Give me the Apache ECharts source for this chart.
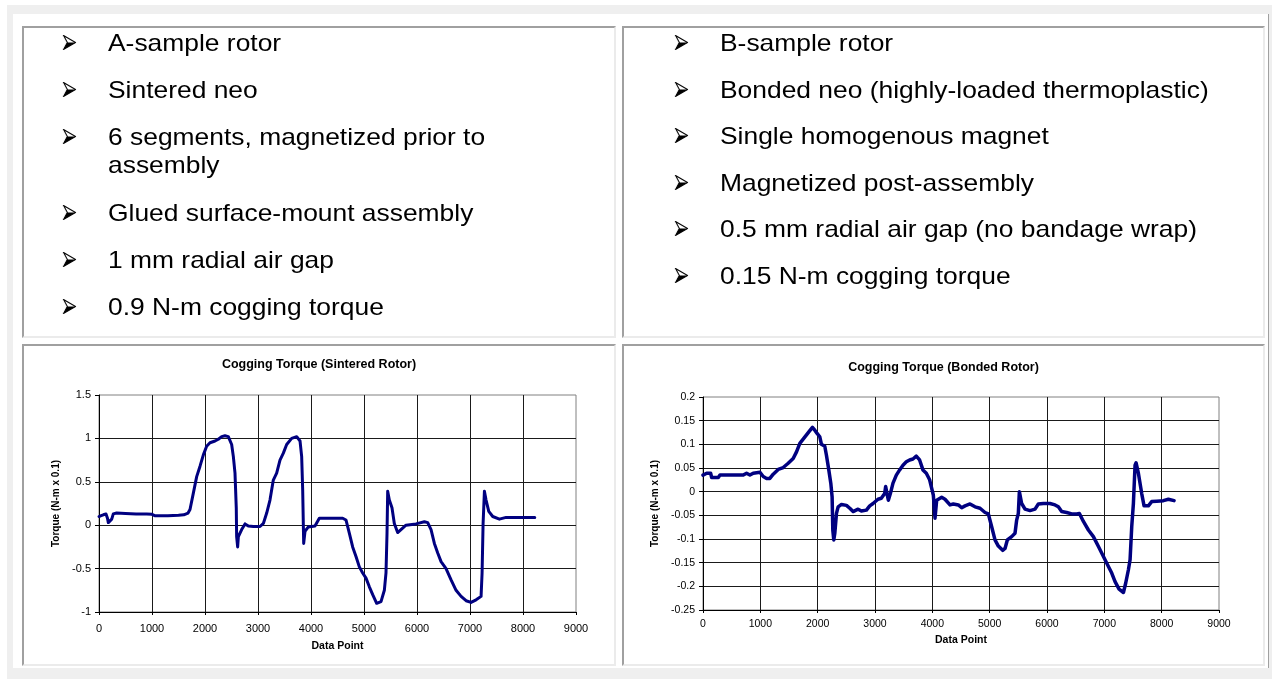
<!DOCTYPE html>
<html>
<head>
<meta charset="utf-8">
<script src="https://cdn.jsdelivr.net/npm/echarts@6/dist/echarts.min.js"></script>
<style>
  html, body { margin: 0; padding: 0; background: #fff; }
  body { width: 1272px; height: 679px; position: relative; overflow: hidden; font-family: 'Liberation Sans', Arial, sans-serif; }
  .frame { position: absolute; left: 7px; top: 5px; width: 1265px; height: 674px; background: #efefef; }
  .inner { position: absolute; left: 13px; top: 14px; width: 1255px; height: 654px; background: #fff; border-right: 1px solid #a0a0a0; }
  .box { position: absolute; box-sizing: border-box; border: 2px solid; border-color: #a0a0a0 #ebebeb #ebebeb #a0a0a0; background: #fff; }
  .list { position: absolute; top: 1px; transform: scaleX(1.1); transform-origin: 0 0; font-size: 24px; line-height: 28px; color: #000; }
  .list p { margin: 0 0 18.6px 0; position: relative; white-space: nowrap; }
  .list.a p { margin-bottom: 19.2px; }
  .arr { position: absolute; left: -41px; top: 6px; }
  .chart { position: absolute; left: 0; top: 0; }
</style>
</head>
<body>
<div class="frame"></div>
<div class="inner"></div>

<div class="box" style="left:22px;top:26px;width:594px;height:312px">
  <div class="list a" style="left:84px">
    <p><svg class="arr" width="12" height="15"><polygon points="0.5,0.5 11.5,7.5 0.5,14.5 4,7.5" fill="#fff" stroke="#000"/><polygon points="4,7.5 11.5,7.5 0.5,14.5" fill="#000"/></svg>A-sample rotor</p>
    <p><svg class="arr" width="12" height="15"><polygon points="0.5,0.5 11.5,7.5 0.5,14.5 4,7.5" fill="#fff" stroke="#000"/><polygon points="4,7.5 11.5,7.5 0.5,14.5" fill="#000"/></svg>Sintered neo</p>
    <p><svg class="arr" width="12" height="15"><polygon points="0.5,0.5 11.5,7.5 0.5,14.5 4,7.5" fill="#fff" stroke="#000"/><polygon points="4,7.5 11.5,7.5 0.5,14.5" fill="#000"/></svg>6 segments, magnetized prior to<br>assembly</p>
    <p><svg class="arr" width="12" height="15"><polygon points="0.5,0.5 11.5,7.5 0.5,14.5 4,7.5" fill="#fff" stroke="#000"/><polygon points="4,7.5 11.5,7.5 0.5,14.5" fill="#000"/></svg>Glued surface-mount assembly</p>
    <p><svg class="arr" width="12" height="15"><polygon points="0.5,0.5 11.5,7.5 0.5,14.5 4,7.5" fill="#fff" stroke="#000"/><polygon points="4,7.5 11.5,7.5 0.5,14.5" fill="#000"/></svg>1 mm radial air gap</p>
    <p><svg class="arr" width="12" height="15"><polygon points="0.5,0.5 11.5,7.5 0.5,14.5 4,7.5" fill="#fff" stroke="#000"/><polygon points="4,7.5 11.5,7.5 0.5,14.5" fill="#000"/></svg>0.9 N-m cogging torque</p>
  </div>
</div>

<div class="box" style="left:622px;top:26px;width:643px;height:312px">
  <div class="list" style="left:96px">
    <p><svg class="arr" width="12" height="15"><polygon points="0.5,0.5 11.5,7.5 0.5,14.5 4,7.5" fill="#fff" stroke="#000"/><polygon points="4,7.5 11.5,7.5 0.5,14.5" fill="#000"/></svg>B-sample rotor</p>
    <p><svg class="arr" width="12" height="15"><polygon points="0.5,0.5 11.5,7.5 0.5,14.5 4,7.5" fill="#fff" stroke="#000"/><polygon points="4,7.5 11.5,7.5 0.5,14.5" fill="#000"/></svg>Bonded neo (highly-loaded thermoplastic)</p>
    <p><svg class="arr" width="12" height="15"><polygon points="0.5,0.5 11.5,7.5 0.5,14.5 4,7.5" fill="#fff" stroke="#000"/><polygon points="4,7.5 11.5,7.5 0.5,14.5" fill="#000"/></svg>Single homogenous magnet</p>
    <p><svg class="arr" width="12" height="15"><polygon points="0.5,0.5 11.5,7.5 0.5,14.5 4,7.5" fill="#fff" stroke="#000"/><polygon points="4,7.5 11.5,7.5 0.5,14.5" fill="#000"/></svg>Magnetized post-assembly</p>
    <p><svg class="arr" width="12" height="15"><polygon points="0.5,0.5 11.5,7.5 0.5,14.5 4,7.5" fill="#fff" stroke="#000"/><polygon points="4,7.5 11.5,7.5 0.5,14.5" fill="#000"/></svg>0.5 mm radial air gap (no bandage wrap)</p>
    <p><svg class="arr" width="12" height="15"><polygon points="0.5,0.5 11.5,7.5 0.5,14.5 4,7.5" fill="#fff" stroke="#000"/><polygon points="4,7.5 11.5,7.5 0.5,14.5" fill="#000"/></svg>0.15 N-m cogging torque</p>
  </div>
</div>

<div class="box" style="left:22px;top:344px;width:594px;height:322px">
  <div id="sintered" class="chart" style="width:590px;height:318px"></div>
</div>
<div class="box" style="left:622px;top:344px;width:643px;height:322px">
  <div id="bonded" class="chart" style="width:639px;height:318px"></div>
</div>

<script>
// sintered rotor trace (data point, torque)
var sinteredX = [0, 40, 82, 132, 160, 176, 208, 240, 270, 333, 500, 700, 900, 1000, 1050, 1300, 1500, 1600, 1680,
  1717, 1780, 1843, 1906, 1969, 2031, 2094, 2189, 2252, 2314, 2377, 2440, 2503, 2535, 2566, 2590, 2597, 2616, 2630,
  2692, 2755, 2818, 2912, 3038, 3101, 3164, 3226, 3289, 3352, 3415, 3478, 3541, 3635, 3730, 3793, 3824, 3843, 3862,
  3887, 3950, 4075, 4110, 4157, 4220, 4598, 4660, 4723, 4786, 4849, 4912, 4975, 5038, 5101, 5164, 5239, 5321, 5384,
  5415, 5434, 5447, 5478, 5528, 5572, 5635, 5698, 5792, 5981, 6139, 6202, 6265, 6328, 6391, 6454, 6548, 6643, 6737,
  6832, 6926, 7020, 7115, 7209, 7228, 7247, 7272, 7303, 7354, 7429, 7555, 7681, 8222];
var sinteredY = [0.10, 0.11, 0.12, 0.13, 0.08, 0.03, 0.05, 0.07, 0.13, 0.14, 0.135, 0.13, 0.13, 0.125, 0.11, 0.11, 0.115, 0.12, 0.14,
  0.18, 0.37, 0.56, 0.68, 0.81, 0.91, 0.95, 0.97, 0.99, 1.02, 1.03, 1.02, 0.93, 0.79, 0.60, 0.20, -0.13, -0.25, -0.13,
  -0.05, 0.015, -0.01, -0.015, -0.015, 0.02, 0.14, 0.29, 0.52, 0.60, 0.75, 0.83, 0.93, 1.00, 1.02, 0.97, 0.79, 0.41, -0.21,
  -0.07, -0.02, -0.01, 0.01, 0.08, 0.08, 0.08, 0.06, -0.09, -0.25, -0.36, -0.48, -0.55, -0.61, -0.71, -0.80, -0.90, -0.88, -0.75,
  -0.55, -0.10, 0.39, 0.29, 0.20, 0.02, -0.085, -0.05, 0, 0.015, 0.04, 0.03, -0.05, -0.21, -0.32, -0.42, -0.50, -0.63, -0.75,
  -0.82, -0.87, -0.89, -0.86, -0.82, -0.55, 0.02, 0.39, 0.29, 0.16, 0.10, 0.07, 0.09, 0.09];

// bonded rotor trace
var bondedX = [0, 64, 93, 133, 151, 209, 267, 296, 500, 702, 760, 818, 876, 993, 1050, 1109, 1166, 1225, 1312, 1399,
  1486, 1573, 1631, 1689, 1747, 1805, 1863, 1909, 1950, 1990, 2037, 2066, 2124, 2153, 2194, 2229, 2252, 2264, 2281,
  2299, 2328, 2357, 2415, 2502, 2560, 2618, 2705, 2763, 2850, 2908, 2966, 3052, 3110, 3169, 3186, 3209, 3233, 3268,
  3314, 3372, 3430, 3488, 3546, 3604, 3662, 3720, 3778, 3836, 3895, 3953, 4017, 4047, 4076, 4105, 4163, 4221, 4308,
  4366, 4454, 4512, 4570, 4657, 4745, 4832, 4919, 4977, 5035, 5093, 5151, 5227, 5268, 5308, 5384, 5442, 5471, 5500,
  5518, 5558, 5617, 5704, 5791, 5849, 5936, 6052, 6140, 6198, 6256, 6343, 6431, 6518, 6565, 6635, 6722, 6809, 6897,
  6984, 7071, 7129, 7187, 7257, 7333, 7373, 7420, 7449, 7478, 7507, 7536, 7554, 7594, 7652, 7693, 7768, 7826, 7914,
  8030, 8117, 8216];
var bondedY = [0.035, 0.039, 0.040, 0.039, 0.030, 0.030, 0.030, 0.035, 0.035, 0.035, 0.039, 0.035, 0.039, 0.041, 0.032, 0.028, 0.028, 0.037, 0.047, 0.051,
  0.060, 0.070, 0.084, 0.102, 0.111, 0.120, 0.129, 0.136, 0.130, 0.123, 0.116, 0.100, 0.096, 0.077, 0.046, 0.018, -0.011, -0.081, -0.102,
  -0.088, -0.046, -0.032, -0.027, -0.029, -0.035, -0.042, -0.037, -0.041, -0.039, -0.030, -0.025, -0.016, -0.014, -0.004, 0.011, -0.004, -0.018, -0.004,
  0.018, 0.035, 0.046, 0.056, 0.063, 0.067, 0.069, 0.075, 0.067, 0.046, 0.039, 0.025, -0.007, -0.056, -0.018, -0.021, -0.012, -0.016, -0.028,
  -0.026, -0.028, -0.034, -0.030, -0.026, -0.032, -0.035, -0.044, -0.047, -0.074, -0.102, -0.115, -0.124, -0.120, -0.102, -0.095, -0.088, -0.060, -0.046,
  0.000, -0.025, -0.037, -0.040, -0.037, -0.026, -0.025, -0.025, -0.028, -0.032, -0.042, -0.044, -0.047, -0.047, -0.046, -0.063, -0.081, -0.095, -0.116,
  -0.137, -0.158, -0.172, -0.190, -0.206, -0.213, -0.193, -0.165, -0.144, -0.074, -0.025, 0.056, 0.061, 0.039, -0.004, -0.030, -0.030, -0.021, -0.020,
  -0.019, -0.016, -0.019];

var font = "'Liberation Sans', Arial, sans-serif";

function pairs(xs, ys) {
  return xs.map(function (x, i) { return [x, ys[i]] })
}

function makeChart(id, cfg) {
  var chart = echarts.init(document.getElementById(id))
  chart.setOption({
    animation: false,
    title: {
      text: cfg.title,
      left: 'center',
      top: cfg.titleTop,
      padding: 0,
      textStyle: { color: '#000', fontFamily: font, fontSize: 12.5, fontWeight: 'bold' }
    },
    grid: {
      left: cfg.grid[0], top: cfg.grid[1], width: cfg.grid[2], height: cfg.grid[3],
      show: true, borderColor: '#808080', borderWidth: 1, backgroundColor: '#fff'
    },
    xAxis: {
      type: 'value',
      min: 0, max: 9000, interval: 1000,
      name: 'Data Point',
      nameLocation: 'middle',
      nameGap: cfg.xNameGap,
      nameTextStyle: { color: '#000', fontFamily: font, fontSize: 10.5, fontWeight: 'bold' },
      axisLine: { onZero: false, lineStyle: { color: '#000', width: 1 } },
      axisTick: { show: true, length: 3, lineStyle: { color: '#000' } },
      axisLabel: {
        color: '#000', fontFamily: font, fontSize: cfg.labelSize, margin: cfg.xLabelMargin,
        formatter: function (v) { return String(v) }
      },
      splitLine: { show: true, showMaxLine: false, lineStyle: { color: '#1a1a1a', width: 1 } }
    },
    yAxis: {
      type: 'value',
      min: cfg.yMin, max: cfg.yMax, interval: cfg.yStep,
      name: 'Torque (N-m x 0.1)',
      nameLocation: 'middle',
      nameRotate: 90,
      nameGap: cfg.yNameGap,
      nameTextStyle: { color: '#000', fontFamily: font, fontSize: 10, fontWeight: 'bold' },
      axisLine: { show: true, onZero: false, lineStyle: { color: '#000', width: 1 } },
      axisTick: { show: true, length: 4, lineStyle: { color: '#000' } },
      axisLabel: { color: '#000', fontFamily: font, fontSize: cfg.labelSize, margin: 8 },
      splitLine: { show: true, showMaxLine: false, lineStyle: { color: '#1a1a1a', width: 1 } }
    },
    series: [{
      type: 'line',
      data: cfg.data,
      showSymbol: false,
      lineStyle: { color: '#000080', width: cfg.lineWidth, join: 'round', cap: 'round' }
    }]
  })
}

makeChart('sintered', {
  title: 'Cogging Torque (Sintered Rotor)',
  titleTop: 12,
  grid: [75, 49, 477, 217],
  yMin: -1, yMax: 1.5, yStep: 0.5,
  labelSize: 11,
  xLabelMargin: 11,
  xNameGap: 29,
  yNameGap: 35,
  lineWidth: 3,
  data: pairs(sinteredX, sinteredY)
})

makeChart('bonded', {
  title: 'Cogging Torque (Bonded Rotor)',
  titleTop: 15,
  grid: [79, 51, 516, 213],
  yMin: -0.25, yMax: 0.2, yStep: 0.05,
  labelSize: 10.5,
  xLabelMargin: 9,
  xNameGap: 25,
  yNameGap: 34,
  lineWidth: 3.5,
  data: pairs(bondedX, bondedY)
})
</script>
</body>
</html>
